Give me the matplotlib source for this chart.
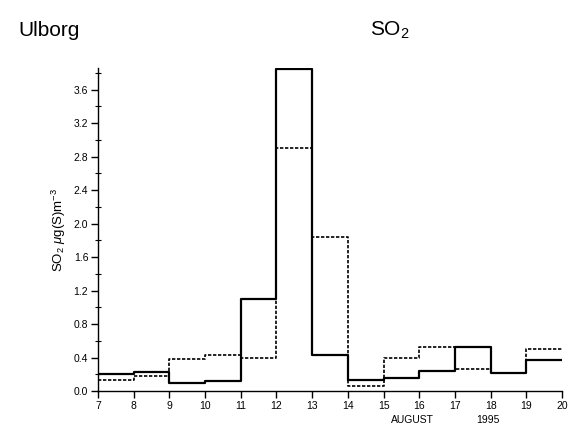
import matplotlib
matplotlib.use("Agg")
import matplotlib.pyplot as plt
import numpy as np
from matplotlib.ticker import MultipleLocator

plt.rcParams['font.family'] = ['Liberation Sans', 'DejaVu Sans']
plt.rcParams['mathtext.fontset'] = 'custom'
plt.rcParams['mathtext.rm'] = 'Liberation Sans'
plt.rcParams['mathtext.it'] = 'Liberation Sans:italic'
plt.rcParams['mathtext.sf'] = 'Liberation Sans'

days = list(range(7, 21))
solid_vals = [0.20, 0.23, 0.10, 0.12, 1.10, 3.85, 0.43, 0.13, 0.15, 0.24, 0.52, 0.21, 0.37]
dotted_vals = [0.13, 0.18, 0.38, 0.43, 0.40, 2.90, 1.84, 0.06, 0.39, 0.52, 0.26, 0.21, 0.50]
xticks = list(range(7, 21))
yticks = [0.0, 0.4, 0.8, 1.2, 1.6, 2.0, 2.4, 2.8, 3.2, 3.6]

fig = plt.figure(figsize=(5.88, 4.42), dpi=100)
ax = fig.add_axes([98/588, 1-391/442, (562-98)/588, (391-68)/442])

ax.step(days, solid_vals + [solid_vals[-1]], where='post', color='black', lw=1.6)
ax.step(days, dotted_vals + [dotted_vals[-1]], where='post', color='black', lw=1.2,
        linestyle=(0, (2, 1)))
ax.axhline(0, color='black', lw=0.6, linestyle=(0, (1, 3)))

ax.set_xlim(7, 20)
ax.set_ylim(0, 3.86)
ax.spines['top'].set_visible(False)
ax.spines['right'].set_visible(False)
ax.spines['left'].set_linewidth(1.0)
ax.spines['bottom'].set_linewidth(1.0)

ax.set_xticks(xticks)
ax.set_xticklabels([str(d) for d in xticks], fontsize=7.5)
ax.set_yticks(yticks)
ax.set_yticklabels([f"{v:.1f}" for v in yticks], fontsize=7.5)
ax.yaxis.set_minor_locator(MultipleLocator(0.2))
ax.tick_params(axis='both', which='major', direction='out', length=5, width=1, pad=2)
ax.tick_params(axis='y', which='minor', direction='inout', length=5, width=0.8)

ax.set_ylabel(r"SO$_2$ $\mu$g(S)m$^{-3}$", fontsize=9.5, labelpad=4)

fig.text(412/588, 1-420/442, "AUGUST", fontsize=7.5, ha='center', va='center')
fig.text(488/588, 1-420/442, "1995", fontsize=7.5, ha='center', va='center')
fig.text(18/588, 1-30/442, "Ulborg", fontsize=15, ha='left', va='center')
fig.text(370/588, 1-30/442, r"SO$_2$", fontsize=15, ha='left', va='center')

fig.savefig("out.png", dpi=100)
